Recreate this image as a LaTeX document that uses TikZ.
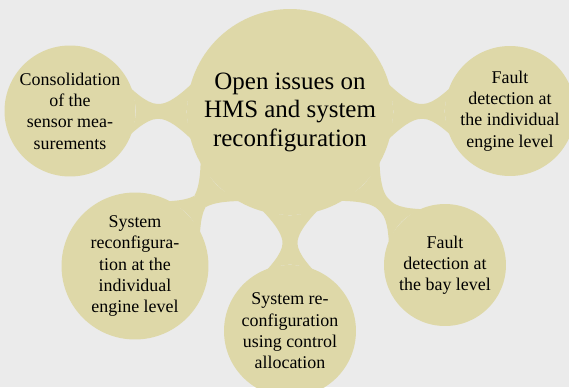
\documentclass[tikz,border=0pt]{standalone}
\usepackage{fontspec}
\setmainfont{Liberation Serif}
\usetikzlibrary{mindmap}

\definecolor{hmsback}{RGB}{235,235,235}
\definecolor{hmsfill}{RGB}{222,216,168}

\tikzset{
  issue/.style={circle,fill=hmsfill,inner sep=0pt,align=center,
    font=\fontsize{10.2}{12.1}\selectfont},
  mainissue/.style={issue,minimum size=4.12cm,
    font=\fontsize{14.2}{16.2}\selectfont},
  issuebar/.style={fill=hmsfill,decorate,
    decoration={circle connection bar,start radius=1.1cm,end radius=0.85cm,
      amplitude=0.3cm,angle=45}}
}

\begin{document}
\begin{tikzpicture}[x=0.02cm,y=0.02cm]
\fill[hmsback] (0,0) rectangle (569,387);
\useasboundingbox (0,0) rectangle (569,387);

\node[mainissue] (root) at (290,275) {Open issues on\\HMS and system\\reconfiguration};

\node[issue,minimum size=2.62cm] (consol) at (70,276) {Consolidation\\of the\\sensor mea-\\surements};
\node[issue,minimum size=2.6cm] (enginefd) at (510,276) {Fault\\detection at\\the individual\\engine level};
\node[issue,minimum size=2.94cm] (enginerec) at (135,121) {System\\reconfigura-\\tion at the\\individual\\engine level};
\node[issue,minimum size=2.64cm] (ctrlalloc) at (290,56) {System re-\\configuration\\using control\\allocation};
\node[issue,minimum size=2.44cm] (bayfd) at (445,122) {Fault\\detection at\\the bay level};

\path[issuebar] (root) -- (consol);
\path[issuebar] (root) -- (enginefd);
\path[issuebar] (root) -- (enginerec);
\path[issuebar] (root) -- (ctrlalloc);
\path[issuebar] (root) -- (bayfd);
\end{tikzpicture}
\end{document}
